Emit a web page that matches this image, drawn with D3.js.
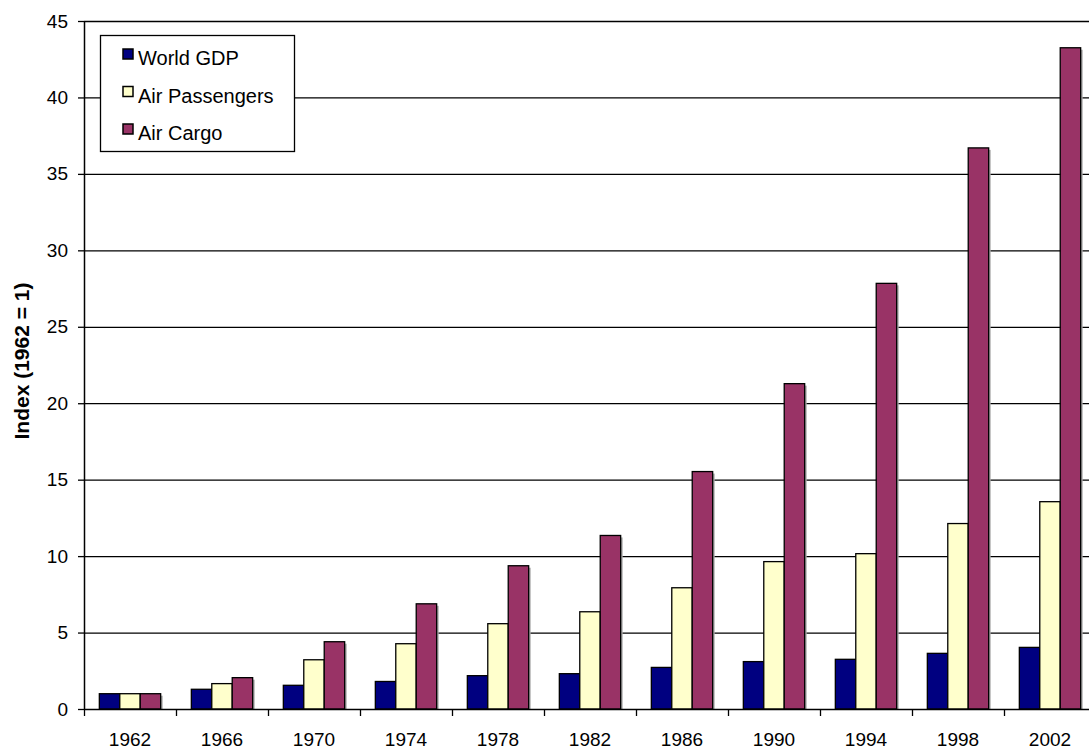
<!DOCTYPE html>
<html>
<head>
<meta charset="utf-8">
<script src="https://cdn.jsdelivr.net/npm/d3@7"></script>
<style>
  body { margin: 0; background: #fff; overflow: hidden; }
  svg { display: block; font-family: Arial, "Liberation Sans", sans-serif; }
</style>
</head>
<body>
<svg id="chart" width="1089" height="749"></svg>
<script>
var years = ["1962", "1966", "1970", "1974", "1978", "1982", "1986", "1990", "1994", "1998", "2002"];
var worldGdp = [1.0, 1.29, 1.55, 1.8, 2.18, 2.31, 2.72, 3.1, 3.25, 3.64, 4.03];
var airPassengers = [1.0, 1.66, 3.22, 4.27, 5.58, 6.36, 7.93, 9.64, 10.16, 12.13, 13.56];
var airCargo = [1.0, 2.05, 4.4, 6.88, 9.37, 11.35, 15.53, 21.28, 27.84, 36.7, 43.25];
var seriesNames = ["World GDP", "Air Passengers", "Air Cargo"];
var yTicks = [0, 5, 10, 15, 20, 25, 30, 35, 40, 45];

var colors = ["#000080", "#ffffcc", "#993366"];
var allSeries = [worldGdp, airPassengers, airCargo];
var font = "Arial, 'Liberation Sans', sans-serif";

var svg = d3.select("#chart"),
    margin = {top: 21, left: 84},
    width = 1012,
    height = 688;
var g = svg.append("g").attr("transform", "translate(" + margin.left + "," + margin.top + ")");

var x = d3.scaleBand()
    .domain(years)
    .range([0, width])
    .paddingInner(0)
    .paddingOuter(0);

// gap width 50% -> group is 3/4.5 of the band
var barW = x.bandwidth() / 4.5;
var groupOff = barW * 0.75;

var y = d3.scaleLinear()
    .domain([0, 45])
    .range([height, 0]);

// gridlines
g.append("g")
  .selectAll("line")
  .data(yTicks.slice(1))
  .enter().append("line")
    .attr("x1", 0).attr("x2", width)
    .attr("y1", function(d) { return y(d) + 0.5; })
    .attr("y2", function(d) { return y(d) + 0.5; })
    .attr("stroke", "#000")
    .attr("stroke-width", 1.3);

// bars
var rows = years.map(function(yr, i) {
  return allSeries.map(function(s, k) { return {year: yr, k: k, v: s[i]}; });
});

var groups = g.append("g").selectAll("g")
  .data(rows)
  .enter().append("g")
    .attr("transform", function(d, i) { return "translate(" + x(years[i]) + ",0)"; });

groups.selectAll("rect.shadow")
  .data(function(d) { return d; })
  .enter().append("rect")
    .attr("class", "shadow")
    .attr("x", function(d) { return groupOff + d.k * barW + 2; })
    .attr("y", function(d) { return y(d.v) + 2; })
    .attr("width", barW)
    .attr("height", function(d) { return height - y(d.v) - 2; })
    .attr("fill", "#aaa");

groups.selectAll("rect.bar")
  .data(function(d) { return d; })
  .enter().append("rect")
    .attr("class", "bar")
    .attr("x", function(d) { return groupOff + d.k * barW; })
    .attr("y", function(d) { return y(d.v); })
    .attr("width", barW)
    .attr("height", function(d) { return height - y(d.v); })
    .attr("fill", function(d) { return colors[d.k]; })
    .attr("stroke", "#000")
    .attr("stroke-width", 1.3);

// axes
var yAxis = g.append("g")
    .call(d3.axisLeft(y).tickValues(yTicks).tickSize(6).tickSizeOuter(0));
yAxis.select(".domain").attr("stroke-width", 1.5);
yAxis.selectAll(".tick line").attr("stroke-width", 1.3);
yAxis.selectAll("text")
    .attr("font-size", "19px")
    .attr("font-family", font)
    .attr("fill", "#000")
    .attr("x", -16);

var xAxis = g.append("g")
    .attr("transform", "translate(0," + height + ")")
    .call(d3.axisBottom(x).tickSize(0).tickSizeOuter(0));
xAxis.select(".domain").attr("stroke-width", 1.5);
xAxis.selectAll("text")
    .attr("font-size", "19px")
    .attr("font-family", font)
    .attr("fill", "#000")
    .attr("dy", 0)
    .attr("y", 37);

// category boundary ticks
xAxis.append("g").selectAll("line")
  .data(years)
  .enter().append("line")
    .attr("x1", function(d) { return x(d) + 0.5; })
    .attr("x2", function(d) { return x(d) + 0.5; })
    .attr("y1", 0).attr("y2", 7)
    .attr("stroke", "#000")
    .attr("stroke-width", 1.3);

// y axis title
svg.append("text")
    .attr("transform", "translate(29,361) rotate(-90)")
    .attr("text-anchor", "middle")
    .attr("font-size", "21px")
    .attr("font-weight", "bold")
    .text("Index (1962 = 1)");

// legend
var legend = svg.append("g").attr("transform", "translate(100,35)");
legend.append("rect")
    .attr("x", 0.5).attr("y", 0.5)
    .attr("width", 194).attr("height", 116)
    .attr("fill", "#fff")
    .attr("stroke", "#000")
    .attr("stroke-width", 1.3);

var items = legend.selectAll("g.item")
  .data(seriesNames)
  .enter().append("g")
    .attr("class", "item")
    .attr("transform", function(d, i) { return "translate(0," + (30 + i * 37.5) + ")"; });

items.append("rect")
    .attr("x", 23).attr("y", -16)
    .attr("width", 10).attr("height", 10)
    .attr("fill", function(d, i) { return colors[i]; })
    .attr("stroke", "#000")
    .attr("stroke-width", 1.5);

items.append("text")
    .attr("x", 38)
    .attr("y", 0)
    .attr("font-size", "20px")
    .text(function(d) { return d; });
</script>
</body>
</html>
